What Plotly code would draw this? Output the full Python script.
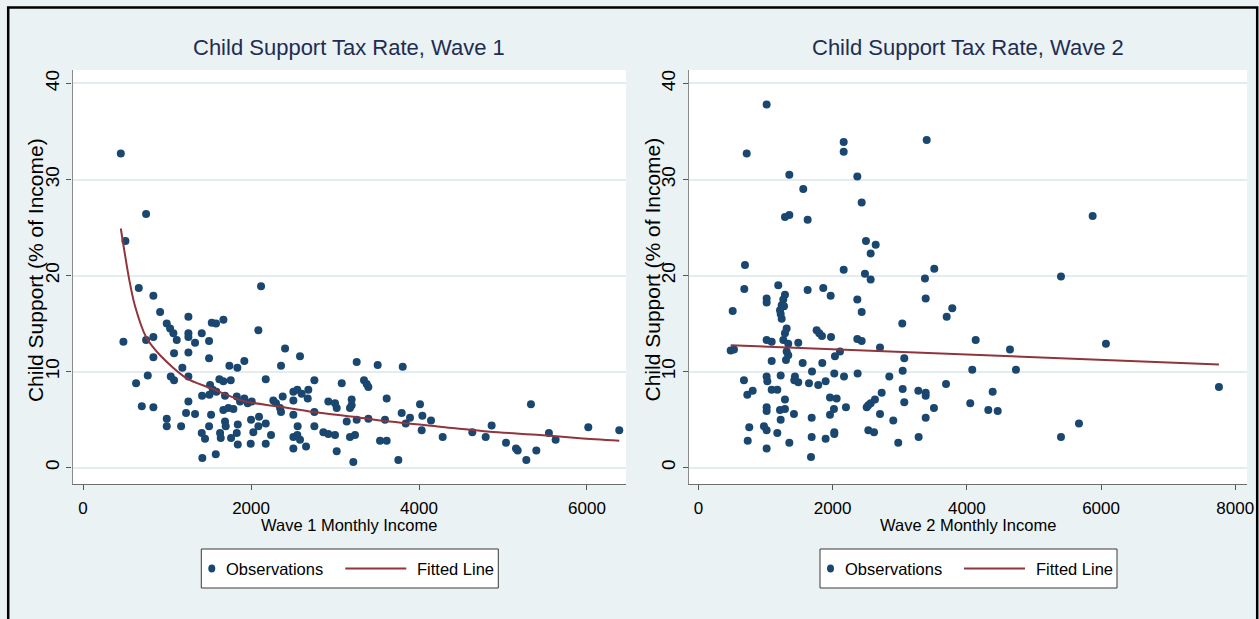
import plotly.graph_objects as go

W, H = 1259, 619

# ---- Wave 1: monthly income vs child support as % of income ----
wave1_income = [
    449, 750, 504, 663, 2119,
    837, 917, 1254, 1671, 1532, 1583,
    996, 1036, 1075, 1115,
    2087, 1254, 1254, 1413, 1333, 1500, 480, 750, 837,
    2405, 2583, 837, 1083, 1254, 1500, 1920, 3258,
    1742, 1837, 2357, 1182, 770, 1254, 1044, 1083, 631, 2175,
    1623, 1670, 1758, 2754, 3080, 1512, 1544, 1417, 1504, 1587, 1690,
    1830, 1920, 1869, 1960, 2008,
    2265, 2297, 2377, 2345,
    2504, 2551, 2603, 2504, 2682, 2675,
    2920, 3000, 3020, 3198, 3198, 3178,
    699, 837, 1254, 1226, 1333, 1524, 1670, 1730, 1790, 2357, 2504, 2754,
    996, 996, 1167, 1690, 1698, 1500, 1842, 1830,
    2000, 2095, 2087, 2175, 2027, 3139, 3258, 2754, 2555,
    1413, 1452, 1631, 1639, 1762, 1996, 1842, 2238, 2175,
    2504, 2551, 2583, 2504, 2655, 2861, 2920, 3000, 3020, 3178, 3238, 3218,
    1420, 1580,
    3508, 3806, 3345, 3377, 3397, 3615, 3397, 3595, 3794, 3842, 3893,
    4012, 4040, 4032, 4143, 4282, 3536, 3615, 3754, 4635, 4794, 4865,
    5036, 5155, 5175, 5278, 5333, 5397, 5547, 5627, 6016, 6385,
]
wave1_rate = [
    32.7, 26.4, 23.6, 18.7, 18.9,
    17.9, 16.2, 15.7, 15.4, 15.1, 15.0,
    15.0, 14.5, 14.0, 13.3,
    14.3, 14.0, 13.6, 14.0, 13.0, 13.2, 13.1, 13.3, 13.6,
    12.4, 11.6, 11.5, 11.9, 12.0, 11.4, 11.1, 11.0,
    10.6, 10.4, 10.6, 10.4, 9.6, 9.5, 9.5, 9.1, 8.8, 9.2,
    9.2, 9.0, 9.1, 9.1, 8.8, 8.6, 8.1, 7.5, 7.6, 7.9, 7.5,
    7.4, 7.2, 6.9, 6.7, 6.9,
    7.0, 6.7, 7.4, 6.2,
    7.9, 8.1, 7.7, 7.0, 8.1, 7.2,
    6.9, 6.7, 6.2, 7.1, 6.5, 6.2,
    6.4, 6.3, 6.9, 5.7, 5.6, 5.5, 6.0, 6.2, 6.1, 5.8, 5.5, 5.8,
    5.1, 4.3, 4.3, 4.8, 4.3, 4.3, 4.5, 3.6,
    5.0, 5.3, 4.3, 4.6, 3.7, 4.8, 5.0, 4.3, 4.3,
    3.6, 3.0, 3.6, 3.1, 3.1, 2.5, 2.4, 3.4, 2.5,
    3.2, 3.4, 2.9, 2.0, 2.2, 3.7, 3.5, 3.4, 1.7, 3.2, 3.4, 0.6,
    1.0, 1.4,
    10.7, 10.5, 9.1, 8.7, 8.4, 7.2, 5.1, 5.0, 5.7, 4.6, 5.2,
    6.6, 5.4, 3.9, 4.9, 3.2, 2.8, 2.8, 0.8, 3.7, 3.2, 4.4,
    2.6, 2.0, 1.8, 0.8, 6.6, 1.8, 3.6, 2.9, 4.2, 3.9,
]
wave1_fit_income = [449, 551, 619, 750, 917, 1234, 1512, 1928, 2306, 2742,
                    3258, 3655, 4250, 4845, 5440, 5917, 6385]
wave1_fit_rate = [24.9, 19.5, 16.8, 13.6, 11.7, 9.3, 8.3, 6.9, 6.4, 5.8,
                  5.25, 4.8, 4.27, 3.75, 3.4, 3.06, 2.8]

# ---- Wave 2 ----
wave2_income = [
    1017, 720, 2165, 2165, 3402, 1355, 2368, 1563, 2433, 1290, 1355, 1628,
    2497, 2642, 2567, 694, 2165, 2482, 2567, 3376, 3515, 684, 1190, 1628, 1861,
    1971, 511, 1017, 1017, 1290, 1265, 1241, 1276, 1216, 1226, 1241, 2368, 2433,
    3387, 3700, 3783, 3038, 1315, 1290, 1265, 1762, 1801, 1841, 1976, 1017, 1092,
    1339, 1488, 2368, 2433, 481, 530, 2706, 1315, 1339, 1305, 2035, 2110, 3068,
    1092, 1554, 1846, 1693, 3044, 679, 1017, 1027, 1226, 1439, 1429, 1488, 1648,
    1786, 1896, 2025, 2170, 2373, 2845, 3690, 729, 809, 1092, 1176, 3044, 3277,
    3387, 3387, 2731, 1961, 2060, 2020, 1961, 1290, 2631, 2567, 2508, 2532, 3068,
    2199, 1017, 1017, 1216, 1290, 1226, 3510, 1424, 2706, 3387, 1688, 2904, 758,
    977, 1017, 1176, 2532, 2617, 2025, 2025, 735, 1355, 1688, 1896, 2978, 3282,
    1017, 1678,
    5875, 5403, 4132, 4643, 6073, 4081, 4732, 4385, 4051, 4320, 4460, 7757,
    5403, 5671,
]
wave2_rate = [
    37.8, 32.7, 33.9, 32.9, 34.1, 30.5, 30.3, 29.0, 27.6, 26.1, 26.3, 25.8,
    23.6, 23.2, 22.3, 21.1, 20.6, 20.2, 19.6, 19.7, 20.7, 18.6, 19.0, 18.5, 18.7,
    17.9, 16.3, 17.6, 17.2, 18.0, 17.5, 16.9, 16.8, 16.4, 16.0, 15.5, 17.5, 16.2,
    17.6, 15.7, 16.6, 15.0, 14.5, 14.0, 13.3, 14.3, 14.0, 13.7, 13.6, 13.3, 13.1,
    12.9, 13.0, 13.4, 13.2, 12.2, 12.3, 12.5, 12.1, 11.7, 11.2, 11.6, 12.1, 11.4,
    11.1, 10.9, 10.9, 10.0, 10.1, 9.1, 9.5, 9.0, 9.6, 9.5, 9.1, 8.9, 8.8,
    8.6, 9.0, 9.8, 9.5, 9.8, 9.5, 8.7, 7.6, 8.0, 8.1, 8.1, 8.2, 8.0,
    7.8, 7.5, 7.8, 7.3, 7.2, 6.1, 5.5, 7.1, 7.1, 6.7, 6.3, 6.5, 6.8,
    6.3, 6.3, 5.9, 6.0, 6.1, 5.0, 6.2, 5.6, 5.6, 5.2, 5.2, 4.9, 4.2,
    4.3, 3.9, 3.6, 3.9, 3.7, 3.7, 3.5, 2.8, 2.6, 3.2, 3.0, 2.6, 3.2,
    2.0, 1.1,
    26.2, 19.9, 13.3, 12.3, 12.9, 10.2, 10.2, 7.9, 6.7, 6.0, 5.9, 8.4,
    3.2, 4.6,
]
wave2_fit_income = [481, 7757]
wave2_fit_rate = [12.75, 10.75]

# ---- styling ----
BG = "#eaf2f3"
NAVY = "#1a476f"
MAROON = "#90353b"
TITLE_C = "#1f2d52"
FONT = "Liberation Sans, Arial, sans-serif"

def fx(p):
    return p / W

def fy(p):
    return 1 - p / H

panels = [
    dict(x=wave1_income, y=wave1_rate, fx_=wave1_fit_income, fy_=wave1_fit_rate,
         xa="x", ya="y", left=72.6, right=626, xr=[-125, 6465],
         ticks=[0, 2000, 4000, 6000], title="Child Support Tax Rate, Wave 1",
         xtitle="Wave 1 Monthly Income"),
    dict(x=wave2_income, y=wave2_rate, fx_=wave2_fit_income, fy_=wave2_fit_rate,
         xa="x2", ya="y2", left=689, right=1247, xr=[-140, 8175],
         ticks=[0, 2000, 4000, 6000, 8000], title="Child Support Tax Rate, Wave 2",
         xtitle="Wave 2 Monthly Income"),
]

fig = go.Figure()
annotations = []
shapes = []
plot_top, plot_bot = 70, 484

for i, p in enumerate(panels):
    fig.add_trace(go.Scatter(
        x=p["x"], y=p["y"], mode="markers", xaxis=p["xa"], yaxis=p["ya"],
        marker=dict(color=NAVY, size=8, line=dict(width=0)),
        name="Observations", showlegend=False, hoverinfo="skip"))
    fig.add_trace(go.Scatter(
        x=p["fx_"], y=p["fy_"], mode="lines", xaxis=p["xa"], yaxis=p["ya"],
        line=dict(color=MAROON, width=2, shape="spline", smoothing=0.8),
        name="Fitted Line", showlegend=False, hoverinfo="skip"))

    sfx = "" if i == 0 else "2"
    fig.update_layout(**{
        "xaxis" + sfx: dict(
            domain=[fx(p["left"]), fx(p["right"])], range=p["xr"],
            anchor="y" + sfx, tickvals=p["ticks"], ticks="outside", ticklen=5,
            tickwidth=1.3, tickcolor="#555", showline=True, linecolor="#6e6e6e",
            linewidth=1.3, showgrid=False, zeroline=False, automargin=False,
            tickfont=dict(family=FONT, size=17, color="#000"),
            ticklabelstandoff=3),
        "yaxis" + sfx: dict(
            domain=[fy(plot_bot), fy(plot_top)], range=[-1.7, 41.4],
            anchor="x" + sfx, tickvals=[0, 10, 20, 30, 40], ticks="outside",
            ticklen=5, tickwidth=1.3, tickcolor="#555", showline=True,
            linecolor="#8a8a8a", linewidth=1.3, showgrid=True,
            gridcolor="#e3edef", gridwidth=1.5, zeroline=False,
            automargin=False, tickangle=-90,
            tickfont=dict(family=FONT, size=19, color="#000")),
    })

    cx = (p["left"] + p["right"]) / 2
    annotations.append(dict(
        text=p["title"], x=fx(cx), y=fy(48), xref="paper", yref="paper",
        showarrow=False, xanchor="center", yanchor="middle",
        font=dict(family=FONT, size=22, color=TITLE_C)))
    annotations.append(dict(
        text=p["xtitle"], x=fx(cx), y=fy(525), xref="paper", yref="paper",
        showarrow=False, xanchor="center", yanchor="middle",
        font=dict(family=FONT, size=16.5, color="#000")))
    annotations.append(dict(
        text="Child Support (% of Income)", x=fx(p["left"] - 36.5), y=fy(270),
        xref="paper", yref="paper", showarrow=False, textangle=-90,
        xanchor="center", yanchor="middle",
        font=dict(family=FONT, size=21, color="#000")))

    # legend box below each panel
    lx = cx - 148
    shapes.append(dict(type="rect", xref="paper", yref="paper",
                       x0=fx(lx), x1=fx(lx + 297), y0=fy(588), y1=fy(549),
                       fillcolor="#ffffff", line=dict(color="#3a3a3a", width=1)))
    shapes.append(dict(type="circle", xref="paper", yref="paper",
                       x0=fx(lx + 7), x1=fx(lx + 14), y0=fy(572.5), y1=fy(564.5),
                       fillcolor=NAVY, line=dict(width=0)))
    shapes.append(dict(type="line", xref="paper", yref="paper",
                       x0=fx(lx + 144), x1=fx(lx + 205), y0=fy(568.5), y1=fy(568.5),
                       line=dict(color=MAROON, width=2)))
    annotations.append(dict(
        text="Observations", x=fx(lx + 23), y=fy(569), xref="paper", yref="paper",
        showarrow=False, xanchor="left", yanchor="middle",
        font=dict(family=FONT, size=16.5, color="#000")))
    annotations.append(dict(
        text="Fitted Line", x=fx(lx + 214), y=fy(569), xref="paper", yref="paper",
        showarrow=False, xanchor="left", yanchor="middle",
        font=dict(family=FONT, size=16.5, color="#000")))

# outer frame
shapes.append(dict(type="rect", xref="paper", yref="paper",
                   x0=fx(8.2), x1=fx(1257.2), y0=-0.02, y1=fy(7.6),
                   line=dict(color="#000", width=2.5), fillcolor="rgba(0,0,0,0)"))

fig.update_layout(
    width=W, height=H, margin=dict(l=0, r=0, t=0, b=0),
    paper_bgcolor=BG, plot_bgcolor="#ffffff", showlegend=False,
    annotations=annotations, shapes=shapes,
)

fig.write_html("out.html")
